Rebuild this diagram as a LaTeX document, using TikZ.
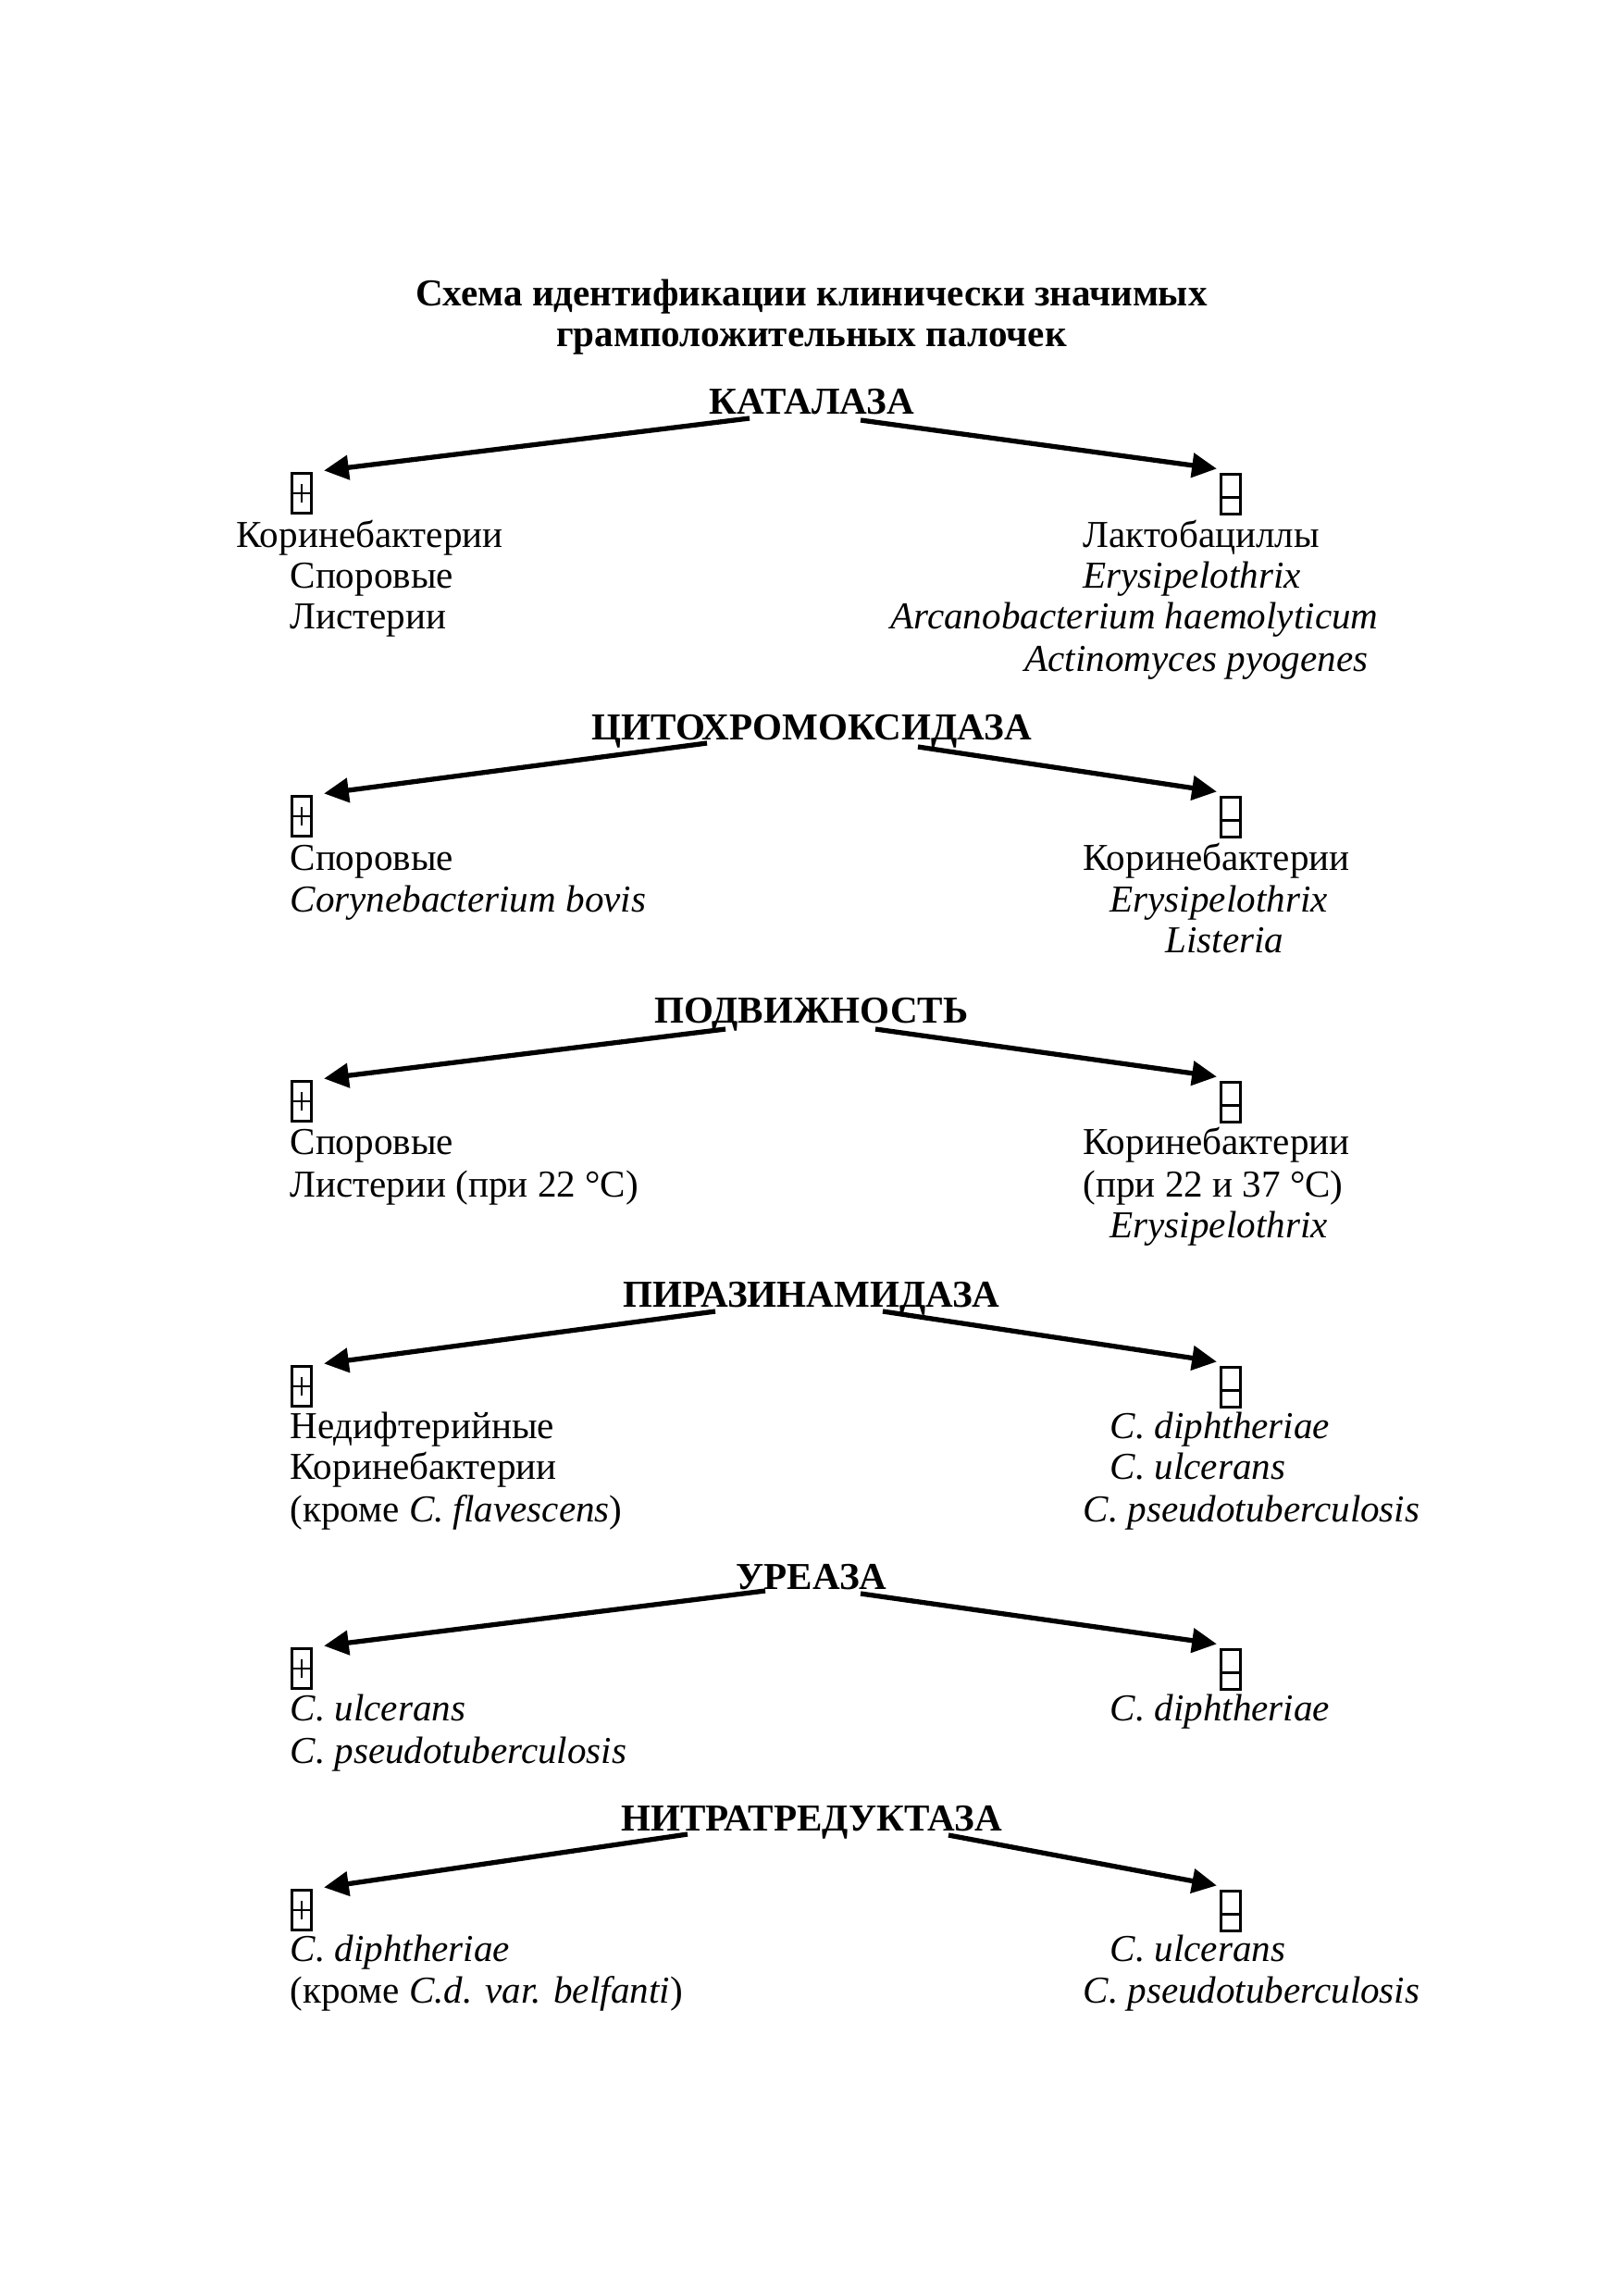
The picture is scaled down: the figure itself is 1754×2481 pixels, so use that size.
\documentclass[tikz,border=0pt]{standalone}
\usepackage{fontspec}
\setmainfont{Liberation Serif}
\usetikzlibrary{arrows.meta}

\begin{document}
\begin{tikzpicture}[x=0.11973mm,y=-0.11973mm,
  every node/.style={font=\fontsize{14}{15}\selectfont,inner sep=0pt},
  ttl/.style={font=\fontsize{14}{15}\selectfont\bfseries,align=center},
  hdr/.style={font=\fontsize{14}{15}\selectfont\bfseries,anchor=base},
  txt/.style={anchor=mid west,yshift=-0.7mm},
  sign/.style={draw,line width=1pt,minimum width=2.55mm,minimum height=5.05mm},
  plusbox/.style={sign,path picture={\draw[line width=0.5pt]
      (path picture bounding box.west) -- (path picture bounding box.east)
      ([yshift=-1.2mm]path picture bounding box.center) -- ([yshift=1.2mm]path picture bounding box.center);}},
  minusbox/.style={sign,path picture={\draw[line width=1pt]
      ([yshift=-0.4mm]path picture bounding box.west) -- ([yshift=-0.4mm]path picture bounding box.east);}},
  arr/.style={-{Triangle[length=3.2mm,width=3.1mm]},line width=1.8pt}]
\useasboundingbox (0,0) rectangle (1754,2481);

\node[ttl] (title) at (877,343) {Схема идентификации клинически значимых\\ грамположительных палочек};

% каталаза
\node[hdr] (kat) at (877,447) {КАТАЛАЗА};
\node[plusbox] (p1) at (326,533) {};
\node[minusbox] (m1) at (1330,534) {};
\draw[arr] ([shift={(-67,5)}]kat.base) -- ([shift={(12,-2)}]p1.north east);
\draw[arr] ([shift={(53,7)}]kat.base) -- ([shift={(-3,-5)}]m1.north west);
\node[txt] (l1a) at (255,579) {Коринебактерии};
\node[txt] (l1b) at (313,623) {Споровые};
\node[txt] (l1c) at (313,667) {Листерии};
\node[txt] (r1a) at (1170,579) {Лактобациллы};
\node[txt] (r1b) at (1170,623) {\textit{Erysipelothrix}};
\node[txt] (r1c) at (962,667) {\textit{Arcanobacterium haemolyticum}};
\node[txt] (r1d) at (1107,713) {\textit{Actinomyces pyogenes}};

% цитохромоксидаза
\node[hdr] (cyt) at (877,799) {ЦИТОХРОМОКСИДАЗА};
\node[plusbox] (p2) at (326,882) {};
\node[minusbox] (m2) at (1330,883) {};
\draw[arr] ([shift={(-113,4)}]cyt.base) -- ([shift={(12,-2)}]p2.north east);
\draw[arr] ([shift={(115,8)}]cyt.base) -- ([shift={(-3,-5)}]m2.north west);
\node[txt] (l2a) at (313,928) {Споровые};
\node[txt] (l2b) at (313,973) {\textit{Corynebacterium bovis}};
\node[txt] (r2a) at (1170,928) {Коринебактерии};
\node[txt] (r2b) at (1199,973) {\textit{Erysipelothrix}};
\node[txt] (r2c) at (1259,1017) {\textit{Listeria}};

% подвижность
\node[hdr] (pod) at (877,1105) {ПОДВИЖНОСТЬ};
\node[plusbox] (p3) at (326,1190) {};
\node[minusbox] (m3) at (1330,1191) {};
\draw[arr] ([shift={(-93,7)}]pod.base) -- ([shift={(12,-2)}]p3.north east);
\draw[arr] ([shift={(69,7)}]pod.base) -- ([shift={(-3,-5)}]m3.north west);
\node[txt] (l3a) at (313,1235) {Споровые};
\node[txt] (l3b) at (313,1281) {Листерии (при 22 °C)};
\node[txt] (r3a) at (1170,1235) {Коринебактерии};
\node[txt] (r3b) at (1170,1281) {(при 22 и 37 °C)};
\node[txt] (r3c) at (1199,1325) {\textit{Erysipelothrix}};

% пиразинамидаза
\node[hdr] (pir) at (877,1412) {ПИРАЗИНАМИДАЗА};
\node[plusbox] (p4) at (326,1498) {};
\node[minusbox] (m4) at (1330,1499) {};
\draw[arr] ([shift={(-104,5)}]pir.base) -- ([shift={(12,-2)}]p4.north east);
\draw[arr] ([shift={(77,5)}]pir.base) -- ([shift={(-3,-5)}]m4.north west);
\node[txt] (l4a) at (313,1542) {Недифтерийные};
\node[txt] (l4b) at (313,1586) {Коринебактерии};
\node[txt] (l4c) at (313,1632) {(кроме \textit{C. flavescens})};
\node[txt] (r4a) at (1199,1542) {\textit{C. diphtheriae}};
\node[txt] (r4b) at (1199,1586) {\textit{C. ulcerans}};
\node[txt] (r4c) at (1170,1632) {\textit{C. pseudotuberculosis}};

% уреаза
\node[hdr] (ure) at (877,1717) {УРЕАЗА};
\node[plusbox] (p5) at (326,1803) {};
\node[minusbox] (m5) at (1330,1804) {};
\draw[arr] ([shift={(-50,2)}]ure.base) -- ([shift={(12,-2)}]p5.north east);
\draw[arr] ([shift={(53,5)}]ure.base) -- ([shift={(-3,-5)}]m5.north west);
\node[txt] (l5a) at (313,1847) {\textit{C. ulcerans}};
\node[txt] (l5b) at (313,1893) {\textit{C. pseudotuberculosis}};
\node[txt] (r5a) at (1199,1847) {\textit{C. diphtheriae}};

% нитратредуктаза
\node[hdr] (nit) at (877,1978) {НИТРАТРЕДУКТАЗА};
\node[plusbox] (p6) at (326,2064) {};
\node[minusbox] (m6) at (1330,2065) {};
\draw[arr] ([shift={(-134,4)}]nit.base) -- ([shift={(12,-2)}]p6.north east);
\draw[arr] ([shift={(148,5)}]nit.base) -- ([shift={(-3,-5)}]m6.north west);
\node[txt] (l6a) at (313,2107) {\textit{C. diphtheriae}};
\node[txt] (l6b) at (313,2152) {(кроме \textit{C.d. var. belfanti})};
\node[txt] (r6a) at (1199,2107) {\textit{C. ulcerans}};
\node[txt] (r6b) at (1170,2152) {\textit{C. pseudotuberculosis}};
\end{tikzpicture}
\end{document}
